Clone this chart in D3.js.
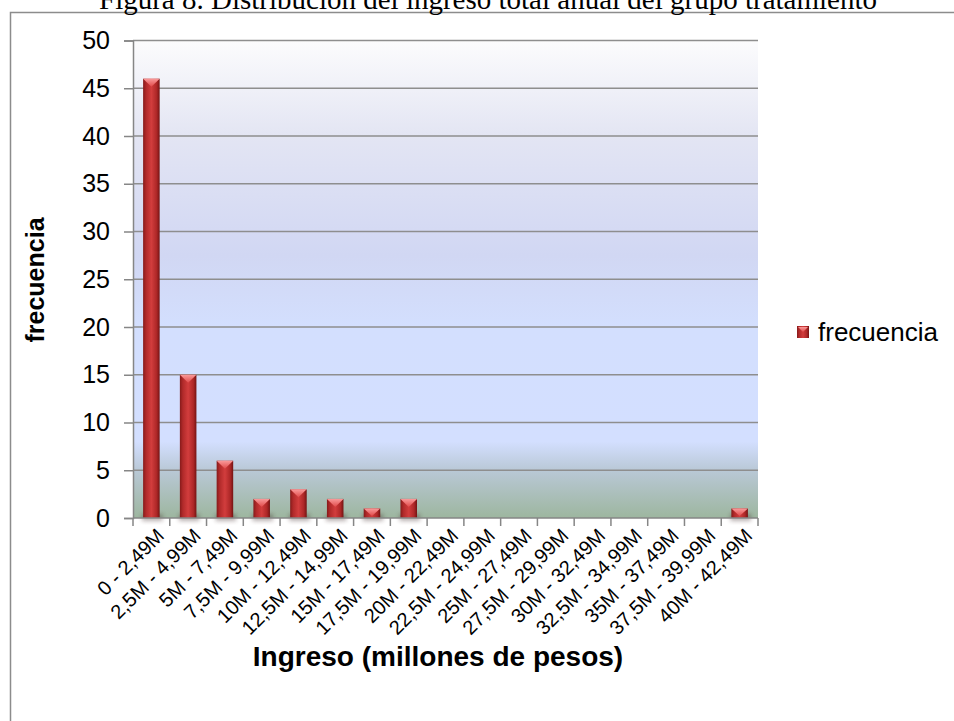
<!DOCTYPE html>
<html>
<head>
<meta charset="utf-8">
<script src="https://cdn.jsdelivr.net/npm/d3@7"></script>
<style>
  body { margin: 0; background: #ffffff; }
  svg { display: block; }
</style>
</head>
<body>
<div id="vis"></div>
<script>
const WIDTH = 954;
const HEIGHT = 721;
const MARGINS = {left: 133, right: 196, top: 40.5, bottom: 203};

const VIS_WIDTH = WIDTH - MARGINS.left - MARGINS.right;
const VIS_HEIGHT = HEIGHT - MARGINS.top - MARGINS.bottom;

// data
const CATEGORIES = ["0 - 2,49M", "2,5M - 4,99M", "5M - 7,49M", "7,5M - 9,99M",
  "10M - 12,49M", "12,5M - 14,99M", "15M - 17,49M", "17,5M - 19,99M",
  "20M - 22,49M", "22,5M - 24,99M", "25M - 27,49M", "27,5M - 29,99M",
  "30M - 32,49M", "32,5M - 34,99M", "35M - 37,49M", "37,5M - 39,99M",
  "40M - 42,49M"];
const FRECUENCIA = [46, 15, 6, 2, 3, 2, 1, 2, 0, 0, 0, 0, 0, 0, 0, 0, 1];
const Y_TICKS = [0, 5, 10, 15, 20, 25, 30, 35, 40, 45, 50];

const TITLE = "Figura 8. Distribución del ingreso total anual del grupo tratamiento";
const SERIES_NAME = "frecuencia";

const data = CATEGORIES.map((c, i) => ({category: c, value: FRECUENCIA[i]}));

const FRAME = d3.select("#vis")
  .append("svg")
    .attr("width", WIDTH)
    .attr("height", HEIGHT);

const defs = FRAME.append("defs");

// plot background gradient
const bg = defs.append("linearGradient")
  .attr("id", "bg").attr("x1", 0).attr("y1", 0).attr("x2", 0).attr("y2", 1);
[[0, "#fcfcfd"], [0.2, "#e3e5f3"], [0.45, "#d1d7f3"], [0.6, "#d3dffe"],
 [0.84, "#d3dfff"], [0.9, "#b9c8d6"], [1, "#9db69f"]].forEach(s =>
  bg.append("stop").attr("offset", s[0]).attr("stop-color", s[1]));

// bar body gradient
const barG = defs.append("linearGradient")
  .attr("id", "barG").attr("x1", 0).attr("y1", 0).attr("x2", 1).attr("y2", 0);
[[0, "#861a1a"], [0.18, "#b12a2a"], [0.5, "#d23d3d"], [0.82, "#ad2727"], [1, "#741313"]]
  .forEach(s => barG.append("stop").attr("offset", s[0]).attr("stop-color", s[1]));

// bar bevel top
const topG = defs.append("linearGradient")
  .attr("id", "topG").attr("x1", 0).attr("y1", 0).attr("x2", 0).attr("y2", 1);
[[0, "#fa9a9a"], [1, "#e04a4a"]]
  .forEach(s => topG.append("stop").attr("offset", s[0]).attr("stop-color", s[1]));

const shadow = defs.append("filter").attr("id", "shadow")
  .attr("x", "-50%").attr("y", "-50%").attr("width", "200%").attr("height", "200%");
shadow.append("feGaussianBlur").attr("stdDeviation", 2);

// outer chart border
FRAME.append("rect")
  .attr("x", 10.5).attr("y", 12.5)
  .attr("width", 1000).attr("height", 800)
  .attr("fill", "none")
  .attr("stroke", "#8c8c8c")
  .attr("stroke-width", 1.5);

// title (cut at the top as in the source)
FRAME.append("text")
  .attr("x", 488).attr("y", 9)
  .attr("text-anchor", "middle")
  .attr("font-family", "Liberation Serif, Times New Roman, serif")
  .attr("font-size", 29)
  .attr("fill", "#000")
  .text(TITLE);

const X_SCALE = d3.scaleBand()
  .domain(CATEGORIES)
  .range([0, VIS_WIDTH])
  .padding(0);

const Y_SCALE = d3.scaleLinear()
  .domain([0, 50])
  .range([VIS_HEIGHT, 0]);

const plot = FRAME.append("g")
  .attr("transform", `translate(${MARGINS.left},${MARGINS.top})`);

plot.append("rect")
  .attr("width", VIS_WIDTH).attr("height", VIS_HEIGHT)
  .attr("fill", "url(#bg)");

// gridlines
plot.selectAll(".grid")
  .data(Y_TICKS.filter(d => d > 0))
  .enter()
  .append("line")
    .attr("x1", 0).attr("x2", VIS_WIDTH)
    .attr("y1", d => Y_SCALE(d)).attr("y2", d => Y_SCALE(d))
    .attr("stroke", "#8e8e8e")
    .attr("stroke-width", 1.5);

// bars
const BAR_W = X_SCALE.bandwidth() * 0.45;
const bars = plot.selectAll(".bar")
  .data(data.filter(d => d.value > 0))
  .enter()
  .append("g")
    .attr("class", "bar")
    .attr("transform", d => `translate(${X_SCALE(d.category) + X_SCALE.bandwidth() / 2 - BAR_W / 2},0)`);

bars.append("rect")
  .attr("x", -1).attr("width", BAR_W + 4)
  .attr("y", VIS_HEIGHT - 4).attr("height", 7)
  .attr("fill", "#3a2020").attr("opacity", 0.35)
  .attr("filter", "url(#shadow)");

bars.append("rect")
  .attr("x", 0)
  .attr("y", d => Y_SCALE(d.value))
  .attr("width", BAR_W)
  .attr("height", d => VIS_HEIGHT - Y_SCALE(d.value))
  .attr("fill", "url(#barG)");

bars.append("path")
  .attr("d", d => {
    const top = Y_SCALE(d.value);
    const h = Math.min(8, (VIS_HEIGHT - top) - 2);
    return `M0,${top}L${BAR_W},${top}L${BAR_W / 2},${top + h}Z`;
  })
  .attr("fill", "url(#topG)");

// y axis
const yAxis = plot.append("g")
  .call(d3.axisLeft(Y_SCALE).tickValues(Y_TICKS).tickSize(9).tickPadding(14));
yAxis.select(".domain").attr("stroke", "#868686").attr("stroke-width", 1.5);
yAxis.selectAll(".tick line").attr("stroke", "#868686").attr("stroke-width", 1.5);
yAxis.selectAll(".tick text")
  .attr("font-family", "Liberation Sans, Arial, sans-serif")
  .attr("font-size", 25)
  .attr("fill", "#000");

// x axis: ticks sit on category boundaries
const xAxisG = plot.append("g").attr("transform", `translate(0,${VIS_HEIGHT})`);
xAxisG.append("line")
  .attr("x1", 0).attr("x2", VIS_WIDTH)
  .attr("stroke", "#868686").attr("stroke-width", 1.5);
xAxisG.selectAll(".xtick")
  .data(CATEGORIES.concat(["__end"]))
  .enter()
  .append("line")
    .attr("x1", (d, i) => i * X_SCALE.step())
    .attr("x2", (d, i) => i * X_SCALE.step())
    .attr("y1", 0).attr("y2", 8)
    .attr("stroke", "#868686").attr("stroke-width", 1.5);
xAxisG.selectAll(".xlabel")
  .data(CATEGORIES)
  .enter()
  .append("text")
    .attr("transform", d => `translate(${X_SCALE(d) + X_SCALE.bandwidth() / 2 + 9},${14}) rotate(-45)`)
    .attr("text-anchor", "end")
    .attr("dy", "0.35em")
    .attr("font-family", "Liberation Sans, Arial, sans-serif")
    .attr("font-size", 20)
    .attr("fill", "#000")
    .text(d => d);

// axis titles
FRAME.append("text")
  .attr("x", 438).attr("y", 666)
  .attr("text-anchor", "middle")
  .attr("font-family", "Liberation Sans, Arial, sans-serif")
  .attr("font-weight", "bold")
  .attr("font-size", 28)
  .attr("fill", "#000")
  .text("Ingreso (millones de pesos)");

FRAME.append("text")
  .attr("transform", "translate(44,280) rotate(-90)")
  .attr("text-anchor", "middle")
  .attr("font-family", "Liberation Sans, Arial, sans-serif")
  .attr("font-weight", "bold")
  .attr("font-size", 25)
  .attr("fill", "#000")
  .text(SERIES_NAME);

// legend
const legend = FRAME.append("g").attr("transform", "translate(797,326)");
legend.append("rect")
  .attr("width", 12).attr("height", 12)
  .attr("fill", "url(#barG)");
legend.append("path")
  .attr("d", "M1,1L11,1L6,6Z")
  .attr("fill", "url(#topG)");
legend.append("text")
  .attr("x", 21).attr("y", 6)
  .attr("dy", "0.35em")
  .attr("font-family", "Liberation Sans, Arial, sans-serif")
  .attr("font-size", 26)
  .attr("fill", "#000")
  .text(SERIES_NAME);
</script>
</body>
</html>
